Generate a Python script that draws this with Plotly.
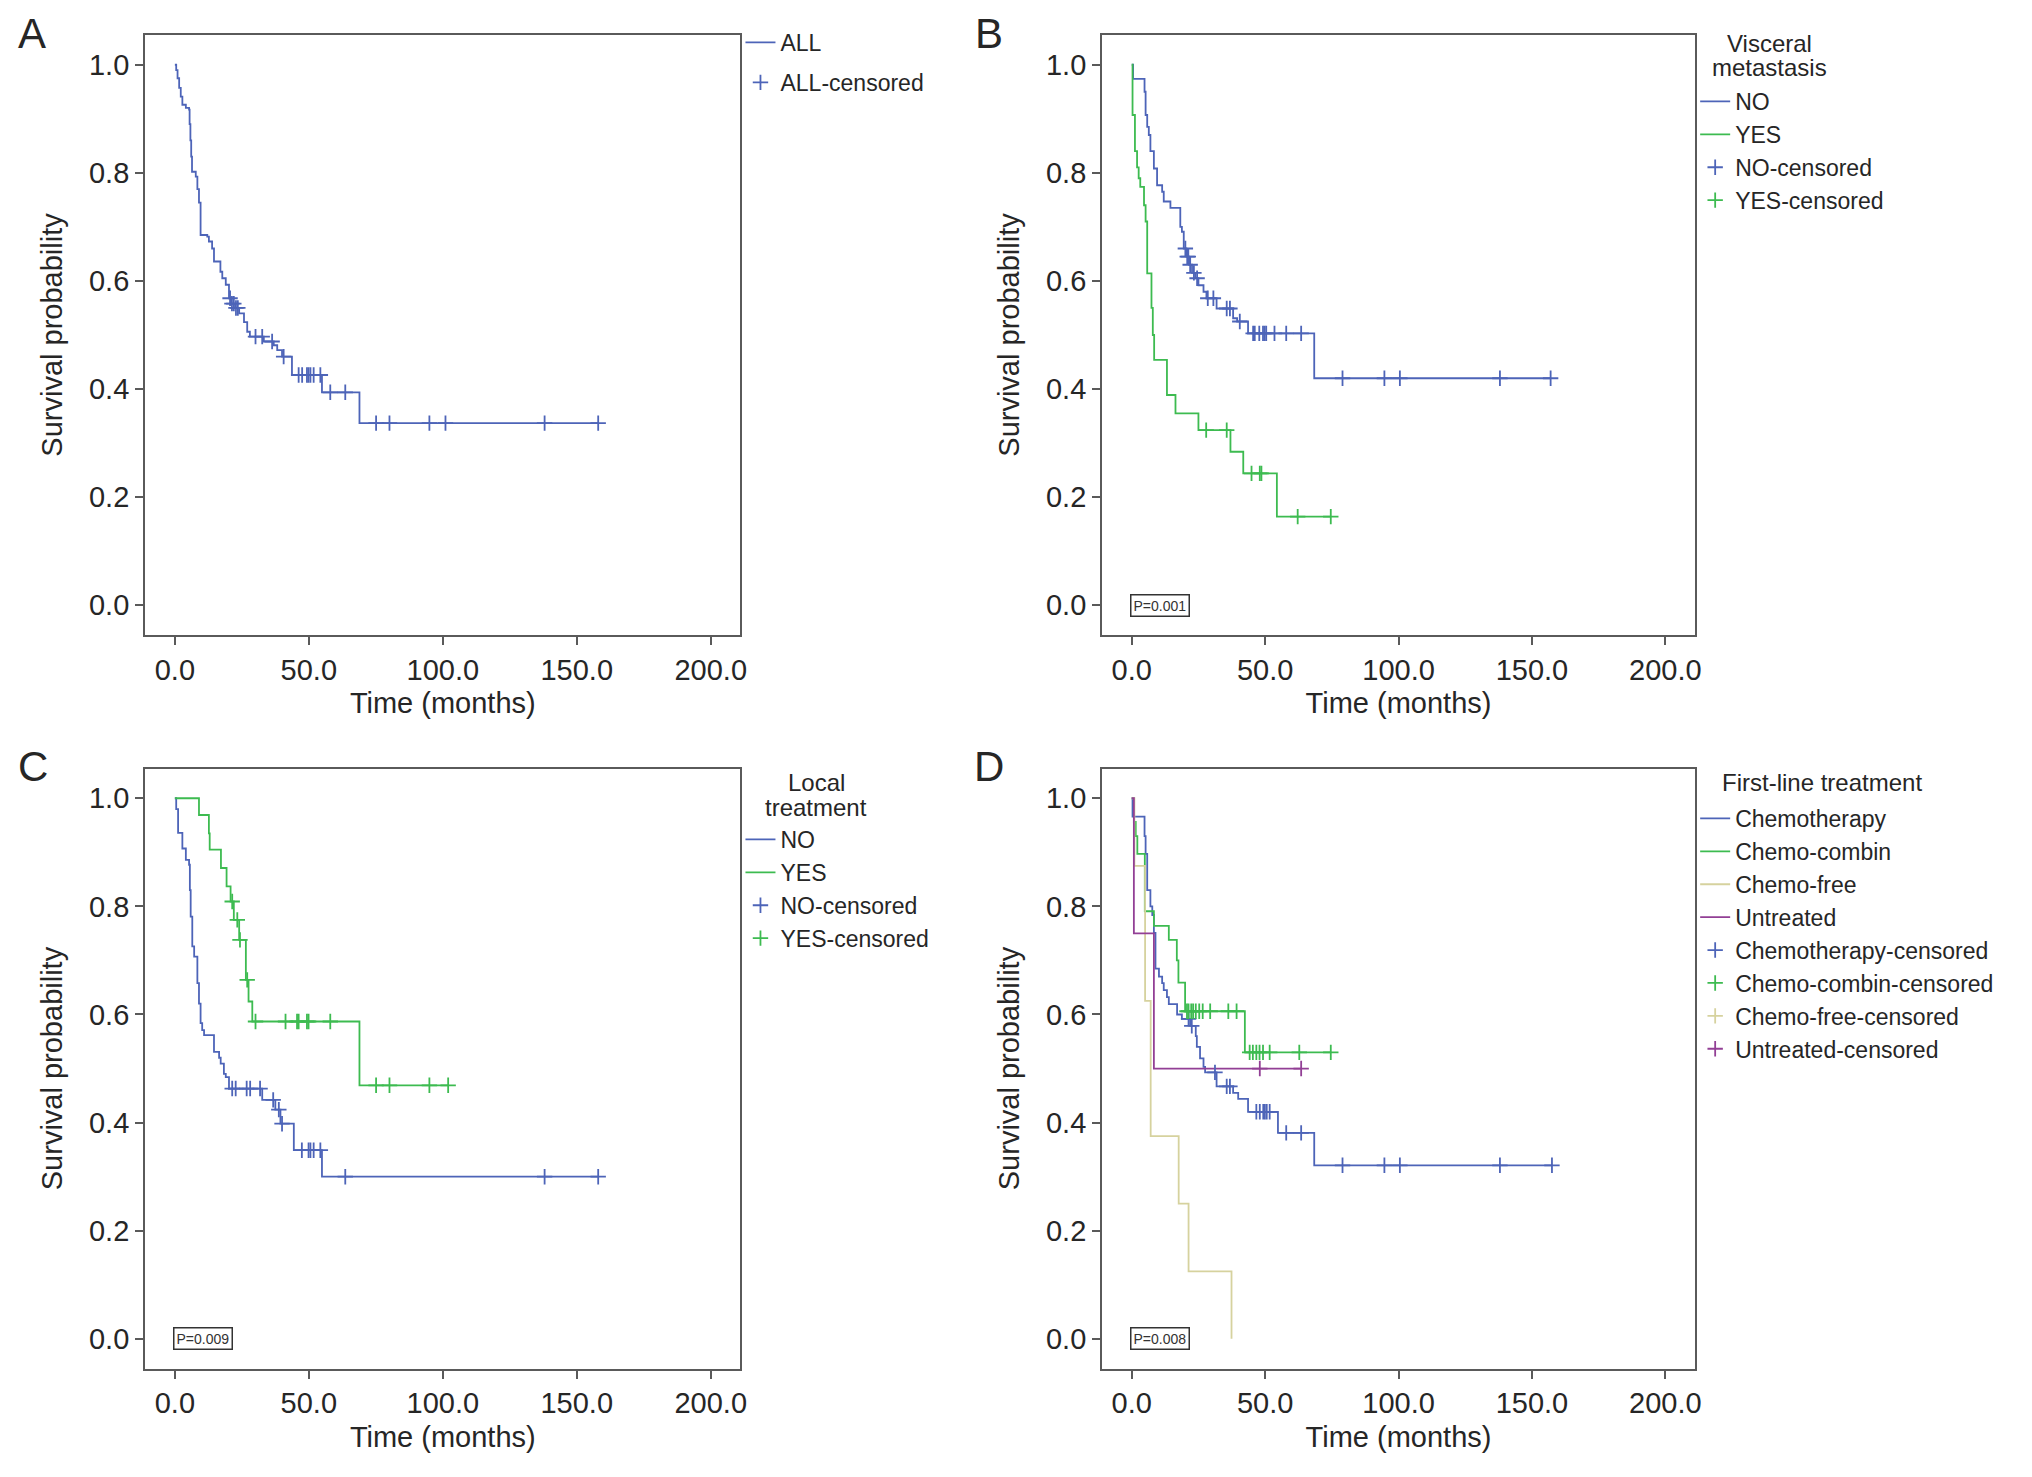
import plotly.graph_objects as go

# ---------------- data ----------------
x_tick_vals = [0, 50, 100, 150, 200]
x_tick_text = ["0.0", "50.0", "100.0", "150.0", "200.0"]
y_tick_vals = [0.0, 0.2, 0.4, 0.6, 0.8, 1.0]
y_tick_text = ["0.0", "0.2", "0.4", "0.6", "0.8", "1.0"]

# Panel A - ALL
A_all_t = [0.5, 1.0, 1.6, 2.2, 2.8, 4.1, 5.3, 5.5, 5.8, 6.1, 6.4, 7.8, 8.4, 9.0, 9.6, 12.1, 12.7, 13.9,
           14.6, 17.0, 17.7, 19.0, 20.2, 21.0, 22.5, 24.0, 25.8, 27.0, 28.0, 33.2, 36.9, 38.2, 40.0,
           43.7, 54.9, 68.9]
A_all_s = [0.99, 0.975, 0.957, 0.941, 0.926, 0.92, 0.917, 0.89, 0.86, 0.83, 0.802, 0.793, 0.77, 0.745,
           0.685, 0.682, 0.673, 0.66, 0.636, 0.617, 0.605, 0.593, 0.568, 0.558, 0.55, 0.54, 0.524, 0.506,
           0.497, 0.488, 0.481, 0.472, 0.46, 0.426, 0.394, 0.337]
A_all_cens = [20.6, 21.3, 22.0, 22.8, 23.5, 30.1, 32.6, 36.3, 40.6, 46.2, 47.5, 49.3, 49.9, 50.6, 51.8,
              54.3, 58.0, 63.6, 75.1, 80.1, 95.0, 101.0, 138.0, 158.0]

# Panel B - Visceral metastasis
B_no_t = [0.5, 4.8, 5.2, 5.8, 6.4, 7.0, 8.3, 9.5, 11.4, 12.0, 14.5, 18.2, 18.8, 19.5, 20.5, 21.5, 22.6,
          23.8, 25.0, 26.9, 28.0, 31.8, 38.0, 39.5, 43.6, 68.4]
B_no_s = [0.974, 0.95, 0.907, 0.885, 0.87, 0.84, 0.808, 0.777, 0.765, 0.747, 0.735, 0.70, 0.691, 0.66,
          0.645, 0.63, 0.615, 0.605, 0.592, 0.58, 0.568, 0.549, 0.531, 0.525, 0.503, 0.42]
B_no_cens = [20.1, 20.8, 21.2, 21.9, 23.3, 24.5, 28.5, 30.6, 35.6, 36.8, 40.5, 45.5, 46.1, 47.8, 49.2,
             49.8, 50.4, 53.5, 57.9, 63.5, 79.0, 94.7, 100.5, 138.0, 157.0]
B_yes_t = [0.3, 1.2, 2.0, 2.6, 3.2, 4.6, 5.2, 5.8, 7.4, 7.9, 8.4, 13.2, 16.4, 25.0, 37.0, 41.8, 54.4]
B_yes_s = [0.907, 0.84, 0.81, 0.79, 0.774, 0.74, 0.71, 0.614, 0.55, 0.50, 0.454, 0.389, 0.355, 0.324,
           0.284, 0.244, 0.164]
B_yes_cens = [27.9, 35.6, 44.9, 48.0, 48.6, 62.2, 74.6]

# Panel C - Local treatment
C_no_t = [0.5, 1.2, 2.8, 4.1, 5.3, 5.6, 5.9, 6.5, 7.2, 8.4, 9.0, 9.6, 10.2, 10.9, 14.6, 16.5, 17.1,
          18.3, 19.0, 20.2, 32.6, 37.5, 39.4, 44.4, 54.9]
C_no_s = [0.98, 0.936, 0.907, 0.886, 0.877, 0.83, 0.781, 0.726, 0.707, 0.658, 0.62, 0.584, 0.571, 0.562,
          0.531, 0.52, 0.509, 0.49, 0.484, 0.463, 0.442, 0.424, 0.398, 0.349, 0.30]
C_no_cens = [21.4, 22.7, 26.8, 28.1, 31.8, 36.7, 38.8, 40.0, 47.4, 49.9, 50.6, 51.8, 54.3, 63.6,
             138.0, 158.0]
C_yes_t = [9.0, 12.7, 13.0, 17.2, 19.3, 20.8, 22.0, 24.0, 26.5, 27.5, 28.9, 68.9]
C_yes_s = [0.969, 0.935, 0.905, 0.871, 0.837, 0.809, 0.775, 0.738, 0.664, 0.624, 0.587, 0.469]
C_yes_cens = [21.4, 23.3, 24.3, 27.0, 30.1, 41.3, 45.6, 46.2, 49.3, 49.9, 58.0, 75.1, 80.1, 95.0, 102.0]

# Panel D - First-line treatment
D_chemo_t = [0.3, 4.8, 5.2, 5.8, 7.0, 7.7, 8.3, 8.9, 10.2, 11.4, 12.0, 13.2, 13.9, 17.0, 18.8, 21.9,
             24.0, 24.4, 25.6, 26.9, 27.5, 31.8, 38.0, 39.9, 43.6, 54.8, 68.4]
D_chemo_s = [0.966, 0.93, 0.897, 0.83, 0.80, 0.784, 0.751, 0.685, 0.67, 0.658, 0.645, 0.632, 0.619,
             0.60, 0.592, 0.579, 0.56, 0.54, 0.519, 0.503, 0.493, 0.467, 0.455, 0.444, 0.42, 0.381, 0.321]
D_chemo_cens = [21.3, 22.5, 31.2, 35.6, 36.8, 46.7, 48.0, 49.3, 49.9, 50.6, 51.7, 57.9, 63.5, 79.0,
                94.7, 100.5, 138.0, 157.5]
D_comb_t = [0.8, 1.5, 2.1, 4.9, 8.3, 13.9, 16.9, 17.5, 20.0, 42.4]
D_comb_s = [0.956, 0.93, 0.897, 0.791, 0.764, 0.738, 0.70, 0.659, 0.606, 0.53]
D_comb_cens = [20.7, 21.3, 22.3, 23.0, 24.0, 25.3, 26.6, 29.4, 36.2, 39.3, 44.2, 45.4, 46.7, 47.9,
               49.2, 51.7, 62.8, 74.6]
D_free_t = [1.0, 5.0, 7.1, 17.6, 21.3, 37.4]
D_free_s = [0.875, 0.625, 0.375, 0.25, 0.125, 0.0]
D_free_cens = []
D_untr_t = [0.8, 8.3]
D_untr_s = [0.75, 0.5]
D_untr_cens = [48.0, 63.5]

# ---------------- styling ----------------
BLUE = "#4d64b8"
GREEN = "#3dbb50"
BEIGE = "#d6d29e"
PURPLE = "#923f95"
FONT = "Liberation Sans, Arial, Helvetica, sans-serif"
TXT = "#262626"
AX = "#5a5a5a"
LW = 1.8

W, H = 2032, 1477
OFF_X = 5  # page body margin compensation
OFF_Y = 8


def surv_at(times, survs, t):
    s = 1.0
    for ti, si in zip(times, survs):
        if ti <= t:
            s = si
        else:
            break
    return s


def step_curve(times, survs, cens):
    end = max([times[-1]] + list(cens))
    xs = [0.0] + list(times)
    ys = [1.0] + list(survs)
    if end > times[-1]:
        xs.append(end)
        ys.append(survs[-1])
    return xs, ys


fig = go.Figure()


def add_group(panel, name, times, survs, cens, color, legend, group=None):
    xs, ys = step_curve(times, survs, cens)
    fig.add_trace(go.Scatter(
        x=xs, y=ys, mode="lines", line=dict(color=color, width=LW, shape="hv"),
        name=name, xaxis="x" + panel, yaxis="y" + panel, legend=legend,
        legendgroup=(group + "l") if group else None, hoverinfo="skip"))


def add_cens(panel, name, times, survs, cens, color, legend, group=None):
    cx = list(cens) if cens else [None]
    cy = [surv_at(times, survs, c) for c in cens] if cens else [None]
    fig.add_trace(go.Scatter(
        x=cx, y=cy, mode="markers",
        marker=dict(symbol="cross-thin", size=11, line=dict(color=color, width=1.8), color=color),
        name=name, xaxis="x" + panel, yaxis="y" + panel, legend=legend,
        legendgroup=(group + "c") if group else None, hoverinfo="skip"))


# Panel A
add_group("", "ALL", A_all_t, A_all_s, A_all_cens, BLUE, "legend", "a")
add_cens("", "ALL-censored", A_all_t, A_all_s, A_all_cens, BLUE, "legend", "a")
# Panel B
add_group("2", "NO", B_no_t, B_no_s, B_no_cens, BLUE, "legend2")
add_group("2", "YES", B_yes_t, B_yes_s, B_yes_cens, GREEN, "legend2")
add_cens("2", "NO-censored", B_no_t, B_no_s, B_no_cens, BLUE, "legend2")
add_cens("2", "YES-censored", B_yes_t, B_yes_s, B_yes_cens, GREEN, "legend2")
# Panel C
add_group("3", "NO", C_no_t, C_no_s, C_no_cens, BLUE, "legend3")
add_group("3", "YES", C_yes_t, C_yes_s, C_yes_cens, GREEN, "legend3")
add_cens("3", "NO-censored", C_no_t, C_no_s, C_no_cens, BLUE, "legend3")
add_cens("3", "YES-censored", C_yes_t, C_yes_s, C_yes_cens, GREEN, "legend3")
# Panel D
add_group("4", "Chemotherapy", D_chemo_t, D_chemo_s, D_chemo_cens, BLUE, "legend4")
add_group("4", "Chemo-combin", D_comb_t, D_comb_s, D_comb_cens, GREEN, "legend4")
add_group("4", "Chemo-free", D_free_t, D_free_s, D_free_cens, BEIGE, "legend4")
add_group("4", "Untreated", D_untr_t, D_untr_s, D_untr_cens, PURPLE, "legend4")
add_cens("4", "Chemotherapy-censored", D_chemo_t, D_chemo_s, D_chemo_cens, BLUE, "legend4")
add_cens("4", "Chemo-combin-censored", D_comb_t, D_comb_s, D_comb_cens, GREEN, "legend4")
add_cens("4", "Chemo-free-censored", D_free_t, D_free_s, D_free_cens, BEIGE, "legend4")
add_cens("4", "Untreated-censored", D_untr_t, D_untr_s, D_untr_cens, PURPLE, "legend4")

# ---------------- layout ----------------
def px_x(v):
    return (v - OFF_X) / W


def px_y(v):
    return 1 - (v - OFF_Y) / H


left_dom = [px_x(142.6), px_x(740.0)]
right_dom = [px_x(1102.9), px_x(1697.8)]
top_dom = [px_y(635.0), px_y(35.0)]
bot_dom = [px_y(1368.6), px_y(768.5)]


def xax(domain, anchor):
    return dict(domain=domain, anchor=anchor, range=[-11.1, 211.1], tickvals=x_tick_vals,
                ticktext=x_tick_text, showline=True, linecolor=AX, linewidth=2, mirror=True,
                ticks="outside", ticklen=8, tickwidth=2, tickcolor=AX, showgrid=False,
                zeroline=False, tickfont=dict(size=29, color=TXT, family=FONT),
                title=dict(text="Time (months)", font=dict(size=29, color=TXT, family=FONT),
                           standoff=8))


def yax(domain, anchor):
    return dict(domain=domain, anchor=anchor, range=[-0.055, 1.055], tickvals=y_tick_vals,
                ticktext=y_tick_text, showline=True, linecolor=AX, linewidth=2, mirror=True,
                ticks="outside", ticklen=8, tickwidth=2, tickcolor=AX, showgrid=False,
                zeroline=False, tickfont=dict(size=29, color=TXT, family=FONT),
                title=dict(text="Survival probability", font=dict(size=29, color=TXT, family=FONT),
                           standoff=18))


def leg(x, ytop, gap=0):
    return dict(x=px_x(x), y=px_y(ytop), xanchor="left", yanchor="top", bgcolor="rgba(0,0,0,0)",
                font=dict(size=23, color=TXT, family=FONT), tracegroupgap=gap,
                itemclick=False, itemdoubleclick=False)


annotations = []
for txt, x, ytop in [("A", 29, 8), ("B", 989, 8), ("C", 30, 741), ("D", 989, 741)]:
    annotations.append(dict(text=txt, x=px_x(x), y=px_y(ytop), xref="paper", yref="paper",
                            showarrow=False, xanchor="center", yanchor="top",
                            font=dict(size=42, color=TXT, family=FONT)))

# legend titles
for txt, x, y in [("Visceral", 1773, 43), ("metastasis", 1773, 67),
                  ("Local", 816, 783), ("treatment", 816, 807),
                  ("First-line treatment", 1825, 783)]:
    annotations.append(dict(text=txt, x=px_x(x), y=px_y(y), xref="paper", yref="paper",
                            showarrow=False, xanchor="center", yanchor="middle",
                            font=dict(size=24, color=TXT, family=FONT)))

# p-values
for txt, xr, yr in [("P=0.001", "x2", "y2"), ("P=0.009", "x3", "y3"), ("P=0.008", "x4", "y4")]:
    annotations.append(dict(text=txt, x=10.5, y=0.0, xref=xr, yref=yr, showarrow=False,
                            xanchor="center", yanchor="middle", bordercolor="#333333",
                            borderwidth=1.5, borderpad=2, bgcolor="white",
                            font=dict(size=14, color="#333333", family=FONT)))

fig.update_layout(
    width=W, height=H, margin=dict(l=0, r=0, t=0, b=0),
    paper_bgcolor="white", plot_bgcolor="white",
    font=dict(family=FONT, color=TXT),
    xaxis=xax(left_dom, "y"), yaxis=yax(top_dom, "x"),
    xaxis2=xax(right_dom, "y2"), yaxis2=yax(top_dom, "x2"),
    xaxis3=xax(left_dom, "y3"), yaxis3=yax(bot_dom, "x3"),
    xaxis4=xax(right_dom, "y4"), yaxis4=yax(bot_dom, "x4"),
    legend=leg(740, 21, gap=7),
    legend2=leg(1698, 80),
    legend3=leg(740, 818),
    legend4=leg(1698, 797),
    annotations=annotations,
    showlegend=True,
)

fig.write_html("out.html")
